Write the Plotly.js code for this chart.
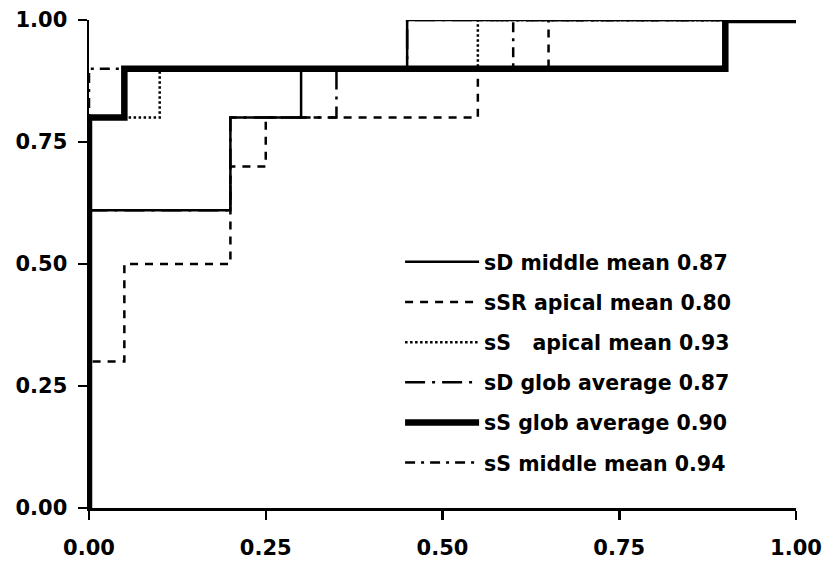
<!DOCTYPE html>
<html>
<head>
<meta charset="utf-8">
<script src="https://cdn.plot.ly/plotly-3.0.1.min.js"></script>
<style>html,body{margin:0;padding:0;background:#fff;}#chart{width:828px;height:564px;}</style>
</head>
<body>
<div id="chart"></div>
<script>
// ROC curves: x = 1 - specificity, y = sensitivity (step points, drawn with shape 'hv')
const seriesNames = [
  "sD middle mean 0.87",
  "sSR apical mean 0.80",
  "sS\u00a0\u00a0\u00a0apical mean 0.93",
  "sD glob average 0.87",
  "sS glob average 0.90",
  "sS middle mean 0.94"
];
const sDMiddleX = [0, 0, 0.2, 0.3, 0.45, 1];
const sDMiddleY = [0, 0.61, 0.8, 0.9, 1, 1];
const sSRApicalX = [0, 0, 0.05, 0.2, 0.25, 0.55, 0.65, 1];
const sSRApicalY = [0, 0.3, 0.5, 0.7, 0.8, 0.9, 1, 1];
const sSApicalX = [0, 0, 0.1, 0.55, 1];
const sSApicalY = [0, 0.8, 0.9, 1, 1];
const sDGlobX = [0, 0, 0.2, 0.35, 0.45, 1];
const sDGlobY = [0, 0.61, 0.8, 0.9, 1, 1];
const sSGlobX = [0, 0, 0.05, 0.9, 1];
const sSGlobY = [0, 0.8, 0.9, 1, 1];
const sSMiddleX = [0, 0, 0.6, 1];
const sSMiddleY = [0, 0.9, 1, 1];
const tickVals = [0, 0.25, 0.5, 0.75, 1];
const tickText = ["0.00", "0.25", "0.50", "0.75", "1.00"];

function tr(x, y, name, width, dash, rank) {
  return {
    type: "scatter", mode: "lines", x: x, y: y, name: name,
    line: {shape: "hv", color: "#000", width: width, dash: dash},
    cliponaxis: false, legendgroup: "g" + rank, legendrank: rank
  };
}
const data = [
  tr(sSRApicalX, sSRApicalY, seriesNames[1], 2.5, "8px,7px", 2),
  tr(sSApicalX, sSApicalY, seriesNames[2], 2.5, "2.5px,2.5px", 3),
  tr(sDGlobX, sDGlobY, seriesNames[3], 2.5, "20px,7px,3px,7px", 4),
  tr(sSMiddleX, sSMiddleY, seriesNames[5], 2.5, "10px,6px,3px,6px", 6),
  tr(sDMiddleX, sDMiddleY, seriesNames[0], 2.5, "solid", 1),
  tr(sSGlobX, sSGlobY, seriesNames[4], 6.5, "solid", 5)
];
const axisCommon = {
  range: [0, 1], tickvals: tickVals, ticktext: tickText,
  showgrid: false, zeroline: false, showline: true, linecolor: "#000", linewidth: 2.5,
  ticks: "outside", ticklen: 9, tickwidth: 2.5, tickcolor: "#000",
  tickfont: {family: "DejaVu Sans, sans-serif", size: 21, color: "#000", weight: "bold"},
  fixedrange: true
};
const layout = {
  width: 828, height: 564,
  margin: {l: 89, r: 32, t: 20, b: 56},
  paper_bgcolor: "#fff", plot_bgcolor: "#fff",
  showlegend: true,
  xaxis: Object.assign({}, axisCommon, {ticklabelstandoff: 10}),
  yaxis: Object.assign({}, axisCommon, {ticklabelstandoff: 6}),
  legend: {
    x: 0.44, y: 0.545, xanchor: "left", yanchor: "top",
    bgcolor: "rgba(0,0,0,0)", borderwidth: 0,
    font: {family: "DejaVu Sans, sans-serif", size: 20.5, color: "#000", weight: "bold"},
    tracegroupgap: 10.5, itemwidth: 74
  }
};
Plotly.newPlot("chart", data, layout, {displayModeBar: false, staticPlot: true});
</script>
</body>
</html>
